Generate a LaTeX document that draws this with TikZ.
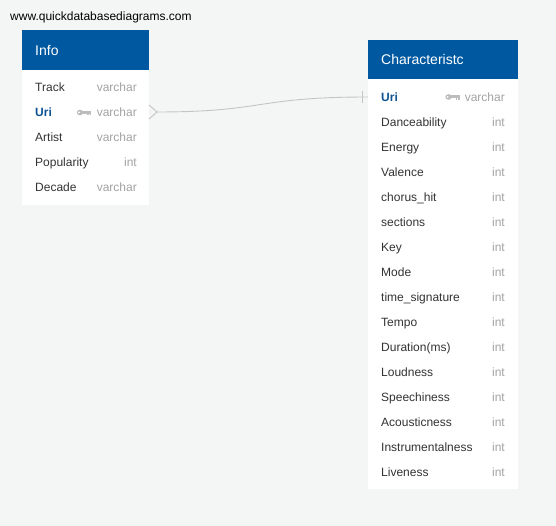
\documentclass[tikz,border=0pt]{standalone}
\usepackage{fontspec}
\setmainfont{Liberation Sans}
\definecolor{bg}{HTML}{F4F6F5}
\definecolor{hdr}{HTML}{0059A0}
\definecolor{nametxt}{HTML}{333333}
\definecolor{typetxt}{HTML}{A3A3A3}
\definecolor{keygray}{HTML}{BDBDBD}
\definecolor{keyblue}{HTML}{0B5394}
\definecolor{linkgray}{HTML}{C4C4C4}
\tikzset{
  tablebody/.style={fill=white, draw=none, inner sep=0pt, anchor=north west},
  tablehead/.style={fill=hdr, draw=none, inner sep=0pt, anchor=north west},
  headtxt/.style={text=white, font=\fontsize{14}{16}\selectfont, inner sep=0pt, anchor=base west},
  fieldname/.style={text=nametxt, font=\fontsize{12}{14}\selectfont, inner sep=0pt, anchor=base west},
  keyname/.style={text=keyblue, font=\fontsize{12}{14}\selectfont\bfseries, inner sep=0pt, anchor=base west},
  fieldtype/.style={text=typetxt, font=\fontsize{12}{14}\selectfont, inner sep=0pt, anchor=base east},
  link/.style={draw=linkgray, line width=0.9pt},
  keyicon/.pic={
    \fill[keygray] (0,0) ellipse (3.2 and 2.8);
    \fill[keygray] (2,-1.5) rectangle (11,1.2);
    \fill[keygray] (7,1.2) rectangle (8.5,3);
    \fill[keygray] (9.5,1.2) rectangle (11,3);
    \fill[white] (-1,0) circle (1);
  }
}
\begin{document}
\begin{tikzpicture}[x=1pt,y=-1pt]
\fill[bg] (0,0) rectangle (556,526);
\useasboundingbox (0,0) rectangle (556,526);

\node[text=black, font=\fontsize{12}{14}\selectfont, inner sep=0pt, anchor=base west] (site) at (10,20.3) {www.quickdatabasediagrams.com};

% Info table
\node[tablebody, minimum width=127pt, minimum height=135pt] (infobody) at (22,70) {};
\node[tablehead, minimum width=127pt, minimum height=40pt] (infohead) at (22,30) {};
\node[headtxt] (infotitle) at (35,55.2) {Info};

\node[fieldname] (i1) at (35,91.3) {Track};
\node[fieldtype] (i1t) at (137,91.3) {varchar};
\node[keyname] (i2) at (35,116.3) {Uri};
\node[fieldtype] (i2t) at (137,116.3) {varchar};
\pic at (80,112.5) {keyicon};
\node[fieldname] (i3) at (35,141.3) {Artist};
\node[fieldtype] (i3t) at (137,141.3) {varchar};
\node[fieldname] (i4) at (35,166.3) {Popularity};
\node[fieldtype] (i4t) at (137,166.3) {int};
\node[fieldname] (i5) at (35,191.3) {Decade};
\node[fieldtype] (i5t) at (137,191.3) {varchar};

% Characteristc table
\node[tablebody, minimum width=150pt, minimum height=410pt] (charbody) at (368,79) {};
\node[tablehead, minimum width=150pt, minimum height=39pt] (charhead) at (368,40) {};
\node[headtxt] (chartitle) at (381,65) {Characteristc};

\node[keyname] (c1) at (381,101.3) {Uri};
\node[fieldtype] (c1t) at (505,101.3) {varchar};
\pic at (448.5,97) {keyicon};
\foreach \nm [count=\k from 2] in {Danceability,Energy,Valence,chorus\_hit,sections,Key,Mode,time\_signature,Tempo,Duration(ms),Loudness,Speechiness,Acousticness,Instrumentalness,Liveness}{
  \node[fieldname] (c\k) at (381,{101.3+25*(\k-1)}) {\nm};
  \node[fieldtype] (c\k t) at (505,{101.3+25*(\k-1)}) {int};
}

% relationship
\coordinate (infouri) at (149,112);
\coordinate (charuri) at (368,97);
\coordinate (crowtip) at (157,112);
\draw[link] ([yshift=-7pt]infouri) -- (crowtip) -- ([yshift=7pt]infouri);
\draw[link] (crowtip) .. controls (265,112) and (255,97) .. (charuri);
\draw[link] ([xshift=-6pt,yshift=-6pt]charuri) -- ([xshift=-6pt,yshift=6pt]charuri);
\end{tikzpicture}
\end{document}
